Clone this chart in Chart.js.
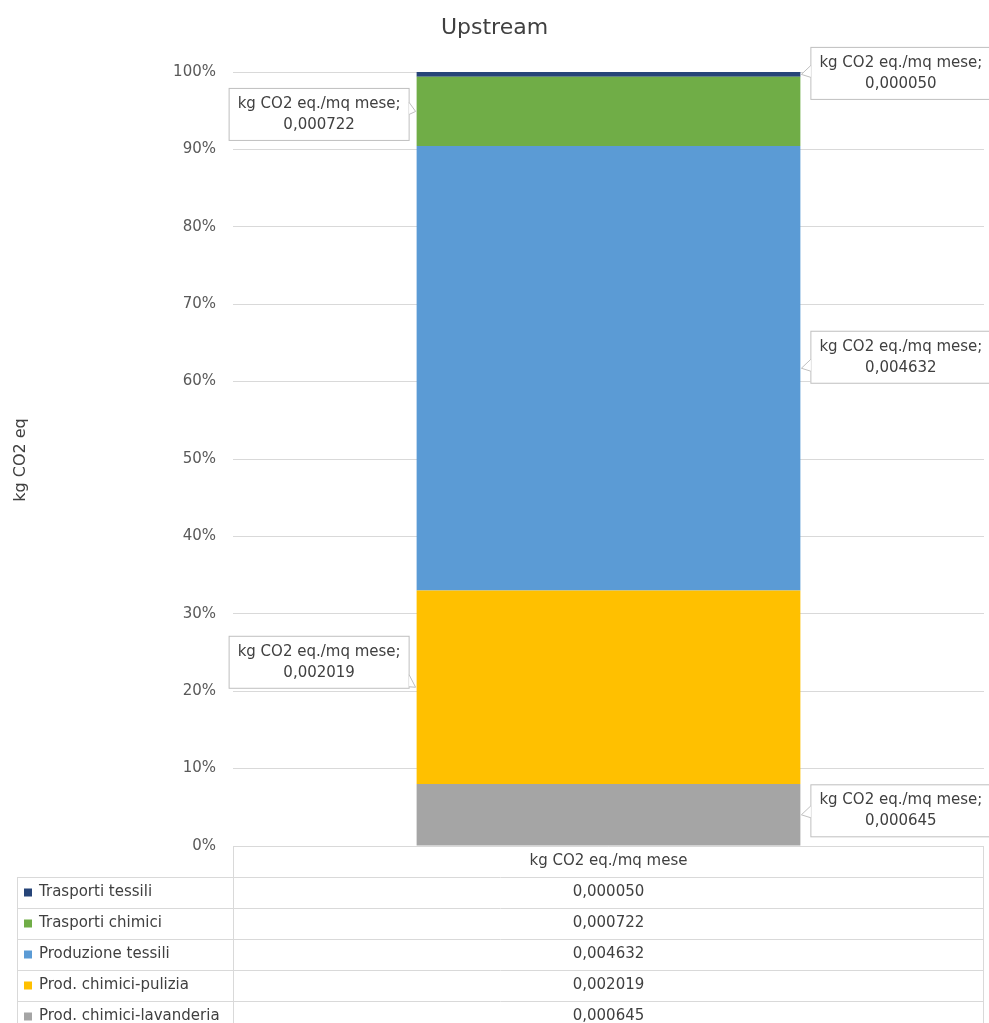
<!DOCTYPE html>
<html>
<head>
<meta charset="utf-8">
<title>Upstream</title>
<script src="https://cdn.jsdelivr.net/npm/chart.js@4.4.1/dist/chart.umd.min.js"></script>
<style>
   html, body { margin: 0; padding: 0; background: #ffffff; }
   #wrap { width: 989px; height: 1023px; }
</style>
</head>
<body>
<div id="wrap"><canvas id="upstream-chart"></canvas></div>
<script>
/*=======================================
 Data
========================================*/
var category = 'kg CO2 eq./mq mese';
// bottom of the stack first
var seriesNames = ['Prod. chimici-lavanderia', 'Prod. chimici-pulizia', 'Produzione tessili', 'Trasporti chimici', 'Trasporti tessili'];
var seriesValues = [0.000645, 0.002019, 0.004632, 0.000722, 0.000050];
var seriesColors = ['#A5A5A5', '#FFC000', '#5B9BD5', '#70AD47', '#264478'];
var tickValues = [0, 10, 20, 30, 40, 50, 60, 70, 80, 90, 100];

// where the callout boxes sit (side of the bar, shift from the segment middle)
var calloutSide = ['right', 'left', 'right', 'left', 'right'];
var calloutShift = [-4, -25, -11, 3, -1];

var FONT = '"DejaVu Sans", sans-serif';
var TEXT = '#404040';
var LINE = '#D9D9D9';

// 100% stacked: each value as share of the total
var total = seriesValues.reduce((a, b) => a + b, 0);

function fmt(v) {
   return v.toFixed(6).replace('.', ',');
}

/*=======================================
 Extra drawing: title, axis title, callouts, data table
========================================*/
const extrasPlugin = {
   id: 'extras',
   afterDatasetsDraw(chart) {
      const ctx = chart.ctx;
      ctx.save();
      ctx.font = '15px ' + FONT;
      ctx.textAlign = 'center';
      ctx.textBaseline = 'middle';

      chart.data.datasets.forEach((ds, i) => {
         const bar = chart.getDatasetMeta(i).data[0];
         const mid = (bar.y + bar.base) / 2;
         const half = bar.width / 2;
         const boxW = 181, boxH = 53;
         const cy = mid + calloutShift[i];
         let bx, px, edge;
         if (calloutSide[i] === 'right') {
            bx = bar.x + half + 10;
            px = bar.x + half + 1;
            edge = bx;
         } else {
            bx = bar.x - half - 7 - boxW;
            px = bar.x - half - 1;
            edge = bx + boxW;
         }
         const by = cy - boxH / 2;

         // box
         ctx.fillStyle = '#ffffff';
         ctx.strokeStyle = '#BFBFBF';
         ctx.lineWidth = 1;
         ctx.fillRect(bx, by, boxW, boxH);
         ctx.strokeRect(bx + 0.5, by + 0.5, boxW - 1, boxH - 1);

         // pointer wedge
         const y1 = Math.max(by + 2, Math.min(mid - 9, by + boxH - 14));
         const y2 = Math.min(by + boxH - 2, y1 + 12);
         const e = calloutSide[i] === 'right' ? edge + 0.5 : edge - 0.5;
         ctx.beginPath();
         ctx.moveTo(e, y1);
         ctx.lineTo(px, mid);
         ctx.lineTo(e, y2);
         ctx.closePath();
         ctx.fill();
         ctx.beginPath();
         ctx.moveTo(e, y1);
         ctx.lineTo(px, mid);
         ctx.lineTo(e, y2);
         ctx.stroke();

         ctx.fillStyle = TEXT;
         ctx.fillText(category + ';', bx + boxW / 2, by + 16);
         ctx.fillText(fmt(seriesValues[i]), bx + boxW / 2, by + 37);
      });
      ctx.restore();
   },
   afterDraw(chart) {
      const ctx = chart.ctx;
      const area = chart.chartArea;
      ctx.save();

      // chart title
      ctx.fillStyle = '#404040';
      ctx.font = '22px ' + FONT;
      ctx.textAlign = 'center';
      ctx.textBaseline = 'middle';
      ctx.fillText('Upstream', chart.width / 2, 28);

      // y axis title
      ctx.save();
      ctx.translate(21, 460);
      ctx.rotate(-Math.PI / 2);
      ctx.fillStyle = TEXT;
      ctx.font = '16px ' + FONT;
      ctx.fillText('kg CO2 eq', 0, 0);
      ctx.restore();

      // data table under the plot
      const rowH = 31;
      const legendLeft = 17;
      const top = area.bottom;
      const rows = seriesNames.length;
      const tableBottom = top + rowH * (rows + 1);
      const cx = (area.left + area.right) / 2;

      ctx.strokeStyle = LINE;
      ctx.lineWidth = 1;
      ctx.beginPath();
      // header row
      ctx.moveTo(area.left, top + 0.5);
      ctx.lineTo(area.right, top + 0.5);
      for (let r = 1; r <= rows + 1; r++) {
         const y = Math.round(top + rowH * r) + 0.5;
         ctx.moveTo(legendLeft, y);
         ctx.lineTo(area.right, y);
      }
      ctx.moveTo(Math.round(area.left) + 0.5, top);
      ctx.lineTo(Math.round(area.left) + 0.5, tableBottom);
      ctx.moveTo(Math.round(area.right) - 0.5, top);
      ctx.lineTo(Math.round(area.right) - 0.5, tableBottom);
      ctx.moveTo(legendLeft + 0.5, top + rowH);
      ctx.lineTo(legendLeft + 0.5, tableBottom);
      ctx.stroke();

      ctx.font = '15px ' + FONT;
      ctx.textBaseline = 'middle';
      ctx.fillStyle = TEXT;
      ctx.textAlign = 'center';
      ctx.fillText(category, cx, top + rowH / 2);

      // rows: top of the stack first
      for (let r = 0; r < rows; r++) {
         const i = rows - 1 - r;
         const y = top + rowH * (r + 1) + rowH / 2;
         ctx.fillStyle = seriesColors[i];
         ctx.fillRect(legendLeft + 7, y - 4, 8, 8);
         ctx.fillStyle = TEXT;
         ctx.textAlign = 'left';
         ctx.fillText(seriesNames[i], legendLeft + 22, y);
         ctx.textAlign = 'center';
         ctx.fillText(fmt(seriesValues[i]), cx, y);
      }
      ctx.restore();
   }
};

/*=======================================
 Chart
========================================*/
var ctx = document.getElementById('upstream-chart');

var upstreamChart = new Chart(ctx, {
   type: 'bar',
   data: {
      labels: [category],
      datasets: seriesNames.map((name, i) => ({
         label: name,
         data: [seriesValues[i] / total * 100],
         backgroundColor: seriesColors[i],
         borderWidth: 0,
         barPercentage: 0.511,
         categoryPercentage: 1
      }))
   },
   options: {
      responsive: true,
      maintainAspectRatio: false,
      animation: false,
      layout: {
         padding: { top: 72, bottom: 177, left: 0, right: 5 }
      },
      scales: {
         x: {
            stacked: true,
            display: false
         },
         y: {
            stacked: true,
            min: 0,
            max: 100,
            afterFit: scale => { scale.width = 233; },
            afterBuildTicks: scale => {
               scale.ticks = tickValues.map(v => ({ value: v }));
            },
            border: { display: false },
            grid: {
               color: LINE,
               lineWidth: 1,
               drawTicks: false
            },
            ticks: {
               padding: 17,
               color: '#595959',
               font: { family: FONT, size: 15 },
               callback: v => v + '%'
            }
         }
      },
      plugins: {
         legend: { display: false },
         title: { display: false },
         tooltip: { enabled: false }
      }
   },
   plugins: [extrasPlugin]
});
</script>
</body>
</html>
